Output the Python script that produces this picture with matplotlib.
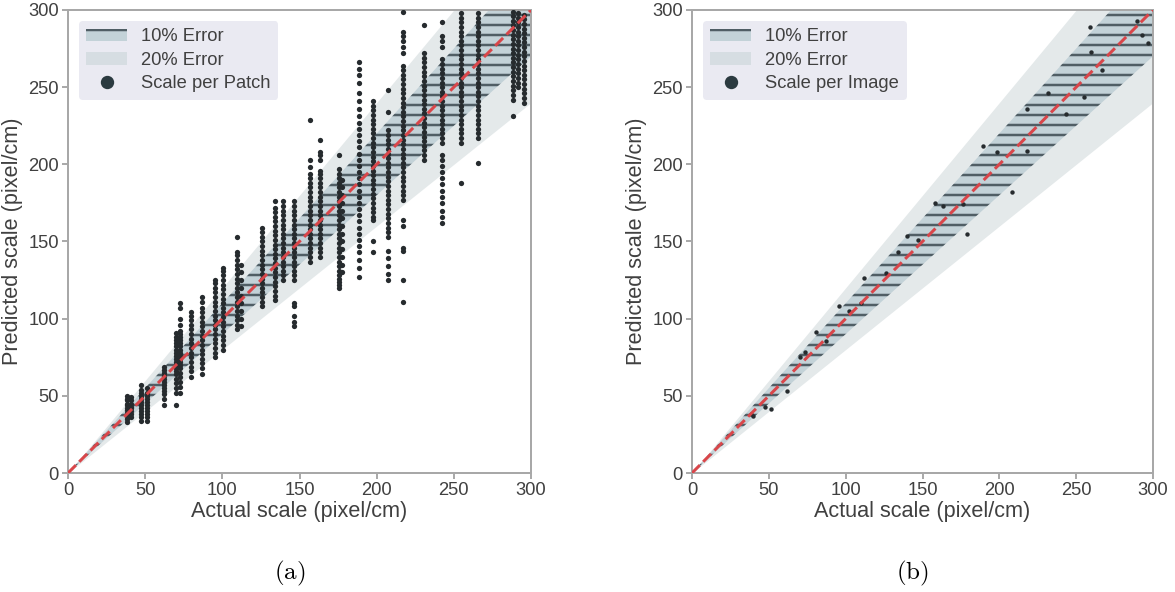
import matplotlib.pyplot as plt
from matplotlib.patches import Patch
from matplotlib.lines import Line2D
import numpy as np

plt.rcParams['font.family'] = ['Liberation Sans', 'DejaVu Sans']
plt.rcParams['mathtext.fontset'] = 'cm'
plt.rcParams['hatch.linewidth'] = 1.5

# (a) scale per patch: one column of predictions per actual scale
patch_actual = [38, 40.5, 47, 51, 62, 70, 72.5, 80, 87, 95.3, 100.5, 109.5, 112,
                125.7, 134.2, 139.3, 146.5, 157, 163.3, 175.7, 177.5, 188.6,
                197.7, 207.4, 217.1, 230.7, 242.4, 254.7, 265.7, 288.4, 291.6, 295.5]
patch_pred = [
    [33, 35, 36, 38, 39, 41, 42, 44, 45, 47, 48, 50],
    [36, 38, 40, 42, 43, 45, 47, 49],
    [34, 36, 38, 40, 42, 44, 46, 48, 50, 52, 54, 57],
    [34, 36, 38, 40, 42, 44, 46, 48, 50, 52, 55],
    [44, 48, 51, 53, 55, 57, 59, 61, 63, 65, 67, 69],
    [44, 52, 55, 58, 61, 64, 66, 68, 70, 72, 74, 76, 78, 80, 82, 84, 86, 88, 91],
    [52, 56, 59, 62, 65, 68, 70, 72, 74, 76, 78, 80, 82, 84, 86, 88, 90, 92, 96, 100, 107, 110],
    [62, 66, 69, 72, 75, 78, 81, 84, 87, 90, 93, 96, 99, 102, 104],
    [64, 68, 71, 74, 77, 80, 83, 86, 89, 92, 95, 98, 101, 104, 107, 111, 114],
    [75, 78, 81, 84, 87, 90, 93, 96, 99, 102, 105, 108, 111, 114, 117, 120, 123, 125],
    [80, 83, 86, 89, 92, 95, 98, 101, 104, 107, 110, 113, 116, 119, 122, 125, 128, 131, 133],
    [93, 96, 99, 102, 105, 108, 111, 114, 117, 120, 123, 126, 129, 132, 135, 138, 141, 143, 153],
    [95, 100, 105, 110, 115, 120, 125, 130, 135],
    [108, 111, 114, 117, 120, 123, 126, 129, 132, 135, 138, 141, 144, 147, 150, 153, 156, 159],
    [112, 115, 118, 121, 124, 127, 130, 133, 136, 139, 142, 145, 148, 151, 154, 157, 160,
     163, 166, 169, 172, 176],
    [125, 128, 131, 134, 137, 140, 143, 146, 149, 152, 155, 158, 161, 164, 167, 170, 173, 176],
    [95, 98, 102, 108, 110, 125, 128, 131, 134, 137, 140, 143, 146, 149, 152, 155, 158, 161,
     164, 167, 170, 173, 176],
    [137, 140, 143, 146, 149, 152, 155, 158, 161, 164, 167, 170, 173, 176, 179, 182, 185,
     188, 191, 194, 198, 203, 229],
    [140, 143, 146, 149, 152, 155, 158, 161, 164, 167, 170, 173, 176, 179, 182, 185, 188,
     191, 194, 196, 203, 206, 208, 216],
    [120, 122, 124, 126, 128, 131, 134, 137, 140, 143, 146, 149, 152, 155, 158, 161, 164,
     167, 170, 173, 176, 179, 182, 185, 188, 191, 194, 197, 206],
    [130, 135, 140, 145, 150, 155, 160, 165, 170, 175, 180, 185, 190],
    [127, 133, 138, 143, 147, 151, 155, 159, 163, 167, 171, 175, 179, 183, 187, 191, 195,
     199, 203, 207, 211, 215, 219, 223, 227, 231, 236, 241, 246, 253, 258, 262, 266],
    [143, 150, 164, 166, 169, 172, 175, 178, 181, 184, 187, 190, 193, 196, 199, 202, 205,
     208, 211, 214, 217, 220, 223, 226, 229, 232, 235, 238, 241],
    [125, 129, 134, 139, 144, 153, 156, 159, 162, 165, 168, 171, 174, 177, 180, 183, 186,
     189, 192, 195, 198, 201, 204, 207, 210, 213, 216, 219, 222, 234, 248],
    [111, 125, 144, 146, 160, 164, 177, 180, 183, 186, 189, 192, 195, 198, 201, 204, 207,
     210, 213, 216, 219, 222, 225, 228, 231, 234, 237, 240, 243, 246, 249, 252, 255, 258,
     261, 264, 272, 276, 280, 283, 286, 299],
    [203, 206, 209, 212, 215, 218, 221, 224, 227, 230, 233, 236, 239, 242, 245, 248, 251,
     254, 257, 260, 263, 266, 269, 272, 290],
    [162, 166, 170, 175, 179, 183, 187, 191, 195, 199, 203, 206, 214, 217, 220, 223, 226,
     229, 232, 235, 238, 241, 244, 247, 250, 253, 256, 259, 262, 265, 268, 276, 280, 283, 292],
    [188, 214, 217, 220, 223, 226, 229, 232, 235, 238, 241, 244, 247, 250, 253, 256, 259,
     262, 265, 268, 271, 274, 277, 280, 283, 286, 289, 292, 295, 298],
    [201, 217, 220, 223, 226, 229, 232, 235, 238, 241, 244, 247, 250, 253, 256, 259, 262,
     265, 268, 271, 274, 277, 280, 283, 286, 289, 292, 295, 298],
    [231, 242, 245, 248, 251, 254, 257, 260, 263, 266, 269, 272, 275, 278, 281, 284, 287,
     290, 293, 296, 299],
    [250, 253, 256, 259, 262, 265, 268, 271, 274, 277, 280, 283, 286, 289, 292, 295, 298],
    [240, 243, 246, 249, 252, 255, 258, 261, 264, 267, 270, 273, 276, 279, 282, 285, 288,
     291, 294, 297],
]

# (b) scale per image
image_actual = [38.4, 39.7, 47.5, 51.4, 61.8, 70.3, 73.5, 80.7, 87.2, 95.6, 102.1, 110.0,
                111.9, 126.2, 134.0, 139.9, 147.0, 158.1, 163.3, 176.3, 178.9, 189.3, 198.4,
                208.2, 218.0, 218.0, 231.6, 243.3, 255.0, 259.6, 258.9, 266.8, 289.5, 292.8,
                296.7]
image_pred = [38.2, 36.9, 42.8, 41.5, 53.1, 75.2, 78.4, 91.4, 85.5, 108.2, 105.0, 110.2,
              126.4, 129.6, 143.2, 153.6, 151.0, 175.0, 173.0, 174.3, 154.9, 211.9, 208.0,
              182.1, 208.7, 235.9, 246.3, 232.7, 243.7, 272.8, 289.0, 261.2, 292.9, 283.9,
              278.7]

ticks = [0, 50, 100, 150, 200, 250, 300]

C20 = '#e4e9ea'
C10 = '#c3d2d8'
HATCH = '#505e65'
RED = '#d9464a'
DOT = '#262b2e'
TXT = '#404040'

fig = plt.figure(figsize=(1175 / 120, 592 / 120), dpi=120)
ax_a = fig.add_axes([68 / 1175, 119 / 592, 463 / 1175, 463 / 592])
ax_b = fig.add_axes([692 / 1175, 119 / 592, 461 / 1175, 463 / 592])


def draw(ax, xs, ys, dot_size, label):
    line = np.array([0, 300])
    ax.fill_between(line, 0.8 * line, 1.2 * line, color=C20, lw=0, zorder=1)
    ax.fill_between(line, 0.9 * line, 1.1 * line, facecolor=C10, edgecolor=HATCH,
                    hatch='--', lw=0, zorder=2)
    ax.scatter(xs, ys, s=dot_size, color=DOT, lw=0, zorder=3)
    ax.plot(line, line, '--', color=RED, lw=1.8, zorder=4)
    ax.set_xlim(0, 300)
    ax.set_ylim(0, 300)
    ax.set_xticks(ticks)
    ax.set_yticks(ticks)
    ax.set_xlabel('Actual scale (pixel/cm)', fontsize=13, color=TXT, labelpad=1)
    ax.set_ylabel('Predicted scale (pixel/cm)', fontsize=13, color=TXT, labelpad=3)
    ax.tick_params(labelsize=11, colors='#999999', labelcolor=TXT, length=3.5, width=1, pad=2)
    for sp in ax.spines.values():
        sp.set_color('#a8a8a8')
        sp.set_linewidth(1.2)
    handles = [
        Patch(facecolor=C10, edgecolor=HATCH, hatch='-', lw=0),
        Patch(facecolor='#d6dde2', lw=0),
        Line2D([], [], ls='none', marker='o', markersize=7, color='#2b3a40'),
    ]
    leg = ax.legend(handles, ['10% Error', '20% Error', label], loc='upper left',
                    fontsize=11, facecolor='#eaeaf2', edgecolor='none', framealpha=1,
                    borderaxespad=0.6, handlelength=2.2, labelspacing=0.35)
    for t in leg.get_texts():
        t.set_color(TXT)


xs_a = np.concatenate([[x] * len(p) for x, p in zip(patch_actual, patch_pred)])
ys_a = np.concatenate(patch_pred)
draw(ax_a, xs_a, ys_a, 10, 'Scale per Patch')
draw(ax_b, image_actual, image_pred, 7, 'Scale per Image')

fig.text(290 / 1175, 1 - 573 / 592, r'$\mathrm{(a)}$', fontsize=15, ha='center', va='center')
fig.text(912 / 1175, 1 - 573 / 592, r'$\mathrm{(b)}$', fontsize=15, ha='center', va='center')

fig.savefig('out.png', dpi=120)
